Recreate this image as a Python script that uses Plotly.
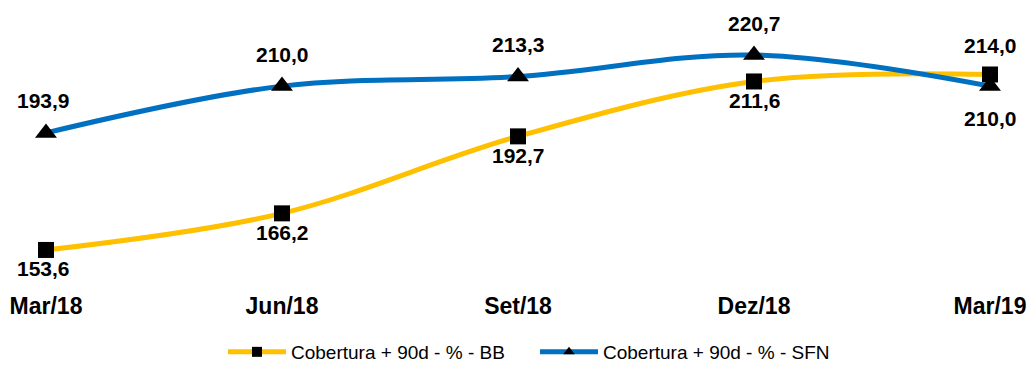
import plotly.graph_objects as go

# Quarterly coverage ratio of loans overdue 90+ days (%)
periods = ["Mar/18", "Jun/18", "Set/18", "Dez/18", "Mar/19"]
bb_values = [153.6, 166.2, 192.7, 211.6, 214.0]
sfn_values = [193.9, 210.0, 213.3, 220.7, 210.0]

# label placement per point: +1 above the marker, -1 below
bb_label_side = [-1, -1, -1, -1, 1]
sfn_label_side = [1, 1, 1, 1, -1]

BB_NAME = "Cobertura + 90d - % - BB"
SFN_NAME = "Cobertura + 90d - % - SFN"
YELLOW = "#FFC000"
BLUE = "#0070C0"
LABEL_FONT = "Liberation Sans, Arial"

x = list(range(len(periods)))


def fmt(v):
    return f"{v:.1f}".replace(".", ",")


fig = go.Figure()
series = [
    (bb_values, BB_NAME, YELLOW, "square", 16),
    (sfn_values, SFN_NAME, BLUE, "triangle-up", 19),
]
for vals, name, color, symbol, msize in series:
    fig.add_trace(go.Scatter(
        x=x, y=vals, name=name, mode="lines+markers", showlegend=False,
        line=dict(color=color, width=5, shape="spline", smoothing=1.0),
        marker=dict(symbol=symbol, size=msize, color="black"),
        cliponaxis=False,
    ))
# legend entries with smaller marker glyphs
for vals, name, color, symbol, msize in series:
    fig.add_trace(go.Scatter(
        x=[None], y=[None], name=name, mode="lines+markers",
        line=dict(color=color, width=5),
        marker=dict(symbol=symbol, size=10, color="black"),
    ))

annotations = []
for vals, sides, (up, down) in ((bb_values, bb_label_side, (29, 19)),
                                (sfn_values, sfn_label_side, (32, 32))):
    for i, (v, s) in enumerate(zip(vals, sides)):
        annotations.append(dict(
            x=i, y=v, xref="x", yref="y", text=fmt(v), showarrow=False,
            yshift=up if s > 0 else -down,
            xshift=-3 if i == 0 else 0,
            font=dict(family=LABEL_FONT, size=21, color="black", weight="bold"),
        ))

fig.update_layout(
    width=1033, height=365,
    margin=dict(l=0, r=0, t=10, b=95, autoexpand=False),
    paper_bgcolor="white", plot_bgcolor="white",
    showlegend=True,
    legend=dict(
        orientation="h", x=223 / 1033, xanchor="left",
        yref="container", y=13 / 365, yanchor="middle",
        font=dict(family="Liberation Sans", size=19, color="black"),
        itemwidth=58, entrywidth=239, traceorder="normal",
    ),
    annotations=annotations,
    xaxis=dict(
        range=[-46 / 236, 4 + 43 / 236],
        tickmode="array", tickvals=x, ticktext=periods,
        showgrid=False, zeroline=False, showline=False, ticks="",
        ticklabelstandoff=20,
        tickfont=dict(family=LABEL_FONT, size=23, color="black", weight="bold"),
    ),
    yaxis=dict(
        range=[146.7, 236.2],
        showgrid=False, zeroline=False, showline=False,
        showticklabels=False, ticks="",
    ),
)

fig.write_html("out.html")
